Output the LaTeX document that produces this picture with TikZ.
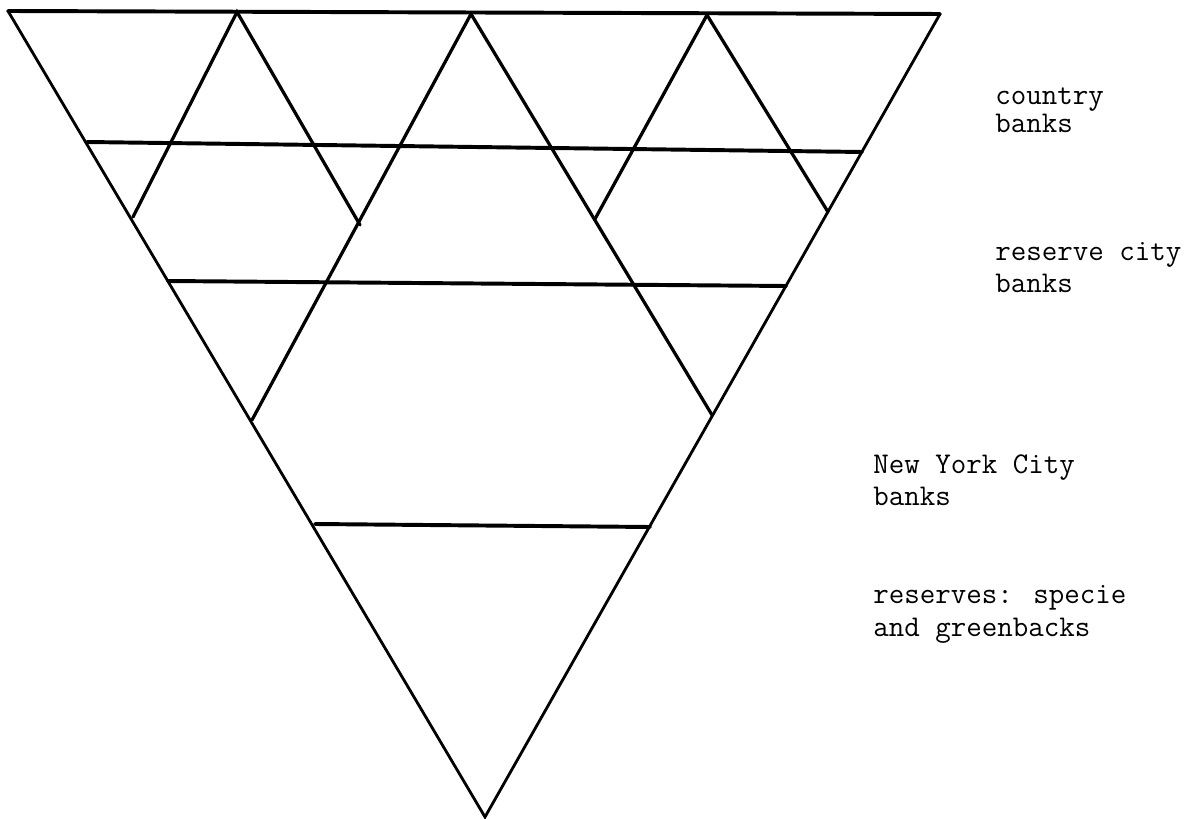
\documentclass[tikz,border=0pt]{standalone}
\usetikzlibrary{positioning}

\begin{document}
\begin{tikzpicture}[
  % one unit = one pixel of the page, y running down
  x=0.025cm, y=-0.025cm,
  % line styles
  rim/.style={line width=2.0pt, line join=miter, line cap=round},
  tier/.style={line width=2.8pt, line cap=round},
  split/.style={line width=2.3pt, line cap=round},
  % label style (anchored on the baseline of the last line)
  tag/.style={font=\ttfamily\fontsize{21.4}{23.2}\selectfont,
    align=left, anchor=base west, inner sep=0pt}
]
\useasboundingbox (0,0) rectangle (1191,819);

% ─── Corners of the big triangle ───────────────────────────────────────────
\coordinate (top_left)  at (8,11);
\coordinate (top_right) at (940,14);
\coordinate (apex)      at (485,817);

% ─── Points along the top edge ─────────────────────────────────────────────
\coordinate (peak_a) at (237,12);
\coordinate (peak_b) at (471,14);
\coordinate (peak_c) at (707,15);

% ─── Lower corners of the inner triangles ──────────────────────────────────
\coordinate (dip_l1) at (133,217);
\coordinate (dip_m1) at (360,225);
\coordinate (dip_m2) at (595,219);
\coordinate (dip_r1) at (828,212);
\coordinate (dip_l2) at (252,420);
\coordinate (dip_r2) at (712,415);

% ─── Ends of the tier lines ────────────────────────────────────────────────
\coordinate (tier1_w) at (87,142);
\coordinate (tier1_e) at (862,152);
\coordinate (tier2_w) at (168,281);
\coordinate (tier2_e) at (786,286);
\coordinate (tier3_w) at (315,524);
\coordinate (tier3_e) at (650,527);

% outer triangle
\draw[rim] (top_right) -- (apex) -- (top_left);
\draw[tier] (top_left) -- (top_right);

% inner triangles
\draw[split] (dip_l1) -- (peak_a) -- (dip_m1);
\draw[split] (dip_l2) -- (peak_b) -- (dip_r2);
\draw[split] (dip_m2) -- (peak_c) -- (dip_r1);

% tiers
\draw[tier] (tier1_w) -- (tier1_e);
\draw[tier] (tier2_w) -- (tier2_e);
\draw[tier] (tier3_w) -- (tier3_e);

% ─── Labels ────────────────────────────────────────────────────────────────
\node[tag] (country_lbl) at (995,133) {country\\[-3.2pt]banks};
\node[tag] (reserve_lbl) at (995,293) {reserve city\\banks};
\node[tag] (nyc_lbl)     at (873,506) {New York City\\banks};
\node[tag] (specie_lbl)  at (873,636) {reserves: specie\\and greenbacks};

\end{tikzpicture}
\end{document}
